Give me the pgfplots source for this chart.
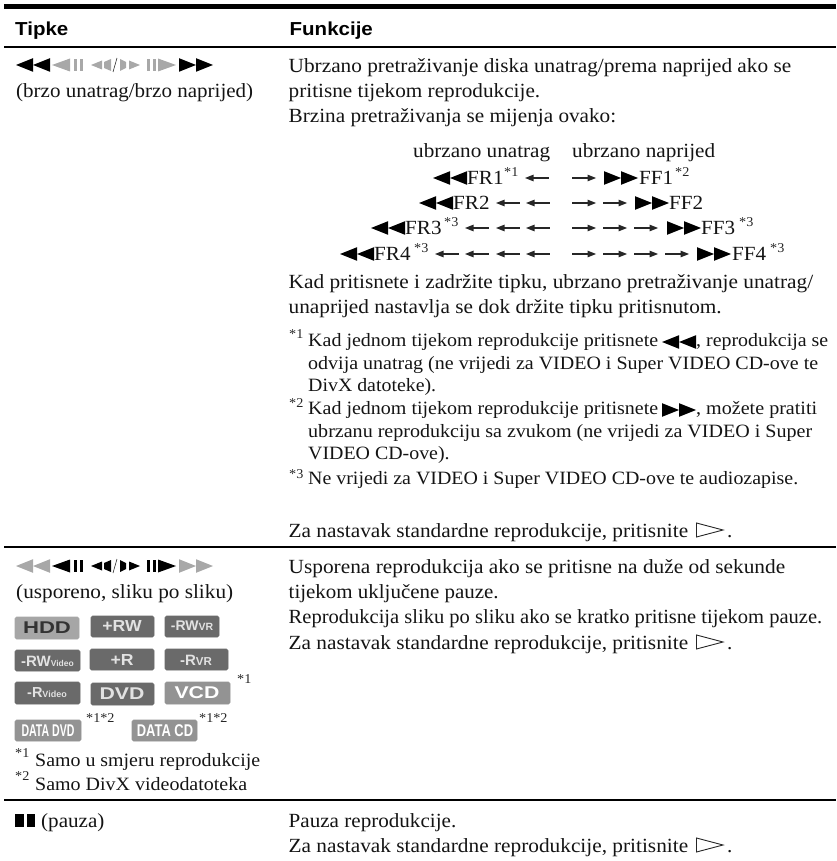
\documentclass[border=0pt]{standalone}
\usepackage{fontspec}
\usepackage{pgfplots}
\pgfplotsset{compat=1.18}
\setmainfont[FakeStretch=1.05]{Liberation Serif}
\newfontfamily\hd[FakeStretch=1.09]{Liberation Sans}
\newfontfamily\hdp{Liberation Sans}
\definecolor{ic}{HTML}{A8A8A8}
\definecolor{bdark}{HTML}{6A6A6A}
\definecolor{bmid}{HTML}{939393}
\definecolor{blight}{HTML}{A6A6A6}
\definecolor{bt}{HTML}{E2E2E2}
\newcommand{\bd}{\fontsize{20.1}{23}\selectfont}
\newcommand{\fn}{\fontsize{18.8}{23}\selectfont}
\newcommand{\T}[3]{\node[anchor=base west,inner sep=0,text=black!92] at (axis cs:#1,#2) {\bd #3};}
% x, baseline, target width, text: the line is fitted to the width it has in the reference
\newcommand{\W}[4]{\node[anchor=base west,inner sep=0,text=black!92] at (axis cs:#1,#2) {\resizebox{#3pt}{\height}{\bd #4}};}
\newcommand{\Fw}[4]{\node[anchor=base west,inner sep=0,text=black!92] at (axis cs:#1,#2) {\resizebox{#3pt}{\height}{\fn #4}};}
\newcommand{\Sp}[3]{\node[anchor=base west,inner sep=0,text=black!85] at (axis cs:#1,#2) {\fontsize{13.5}{14}\selectfont #3};}
% triangles: x left, y centre, width, half height, colour
\newcommand{\tl}[5]{\addplot[fill=#5,draw=none] coordinates {(#1,#2)(#1+#3,#2-#4)(#1+#3,#2+#4)} -- cycle;}
\newcommand{\tr}[5]{\addplot[fill=#5,draw=none] coordinates {(#1,#2-#4)(#1+#3,#2)(#1,#2+#4)} -- cycle;}
\newcommand{\dl}[3]{\tl{#1}{#2}{17}{6.8}{#3}\tl{#1+17}{#2}{17}{6.8}{#3}}
\newcommand{\dr}[3]{\tr{#1}{#2}{17}{6.8}{#3}\tr{#1+17}{#2}{17}{6.8}{#3}}
\newcommand{\rect}[5]{\addplot[fill=#5,draw=none] coordinates {(#1,#2)(#3,#2)(#3,#4)(#1,#4)} -- cycle;}
\newcommand{\la}[2]{\addplot[black!85,line width=1.1pt] coordinates {(#1+3,#2)(#1+24,#2)};\tl{#1}{#2}{8.5}{3.4}{black!85}}
\newcommand{\ra}[2]{\addplot[black!85,line width=1.1pt] coordinates {(#1,#2)(#1+21,#2)};\tr{#1+15.5}{#2}{8.5}{3.4}{black!85}}
\newcommand{\play}[1]{\addplot[draw=black!85,line width=0.9pt,fill=white] coordinates {(696.5,#1-7)(723,#1)(696.5,#1+7)} -- cycle;}
\newcommand{\btn}[5]{\addplot[fill=#5,draw=#5,line width=0.6pt,rounded corners=1.5pt] coordinates {(#1,#2)(#3,#2)(#3,#4)(#1,#4)} -- cycle;}
% x, y, size, colour, horizontal scale, text
\newcommand{\lbl}[6]{\node[inner sep=0,text=#4] at (axis cs:#1,#2) {\scalebox{#5}[1]{\hdp\bfseries\fontsize{#3}{#3}\selectfont #6}};}
% the keypad row: y centre, colours for wings, centre
\newcommand{\keys}[3]{%
 \dl{16}{#1}{#2}
 \tl{52}{#1}{18}{6.5}{#3}\rect{74}{#1-6}{77}{#1+6}{#3}\rect{80}{#1-6}{83}{#1+6}{#3}
 \tl{91}{#1}{11}{4.5}{#3}
 \addplot[fill=#3,draw=none] coordinates {(104,#1-3)(111,#1-6)(111,#1+6)(104,#1+3)} -- cycle;
 \addplot[black!85,line width=0.6pt] coordinates {(113,#1+7)(117,#1-7)};
 \addplot[fill=#3,draw=none] coordinates {(120,#1-6)(126,#1-3)(126,#1+3)(120,#1+6)} -- cycle;
 \tr{129}{#1}{11}{4.5}{#3}
 \rect{147}{#1-6}{150}{#1+6}{#3}\rect{153}{#1-6}{156}{#1+6}{#3}\tr{158}{#1}{18}{6.5}{#3}
 \dr{179}{#1}{#2}}
\begin{document}
\begin{tikzpicture}
\useasboundingbox (0,0) rectangle (836pt,861pt);
\begin{axis}[hide axis,scale only axis,width=836pt,height=861pt,xmin=0,xmax=836,ymin=0,ymax=861,y dir=reverse,clip=false]
% rules
\rect{4}{4}{836}{9.5}{black}
\rect{4}{46}{836}{48}{black}
\rect{4}{546}{836}{548}{black}
\rect{4}{799}{836}{801}{black}
% header
\node[anchor=base west,inner sep=0] at (axis cs:15,35.5) {\hd\bfseries\fontsize{18.8}{20}\selectfont Tipke};
\node[anchor=base west,inner sep=0] at (axis cs:289.5,35.5) {\hd\bfseries\fontsize{18.8}{20}\selectfont Funkcije};
% row 1 left
\keys{65}{black}{ic}
\W{16}{98}{237}{(brzo unatrag/brzo naprijed)}
% row 1 right
\W{288.5}{73}{502.5}{Ubrzano pretraživanje diska unatrag/prema naprijed ako se}
\W{288.5}{98}{251.5}{pritisne tijekom reprodukcije.}
\W{288.5}{123}{327.5}{Brzina pretraživanja se mijenja ovako:}
\W{413}{158}{137}{ubrzano unatrag}
\W{572}{158}{143}{ubrzano naprijed}
% FR1
\dl{433}{178}{black}\T{467}{184}{FR1}\Sp{504}{176}{*1}\la{525}{178}
\ra{572}{178}\dr{604}{178}{black}\T{639}{184}{FF1}\Sp{675}{176}{*2}
% FR2
\dl{419}{203}{black}\T{453}{209}{FR2}\la{496}{203}\la{526}{203}
\ra{572}{203}\ra{603}{203}\dr{635}{203}{black}\T{669}{209}{FF2}
% FR3
\dl{371}{228}{black}\T{405}{234}{FR3}\Sp{444}{226}{*3}\la{465}{228}\la{496}{228}\la{526}{228}
\ra{572}{228}\ra{603}{228}\ra{634}{228}\dr{667}{228}{black}\T{701}{234}{FF3}\Sp{739}{226}{*3}
% FR4
\dl{340}{254}{black}\T{374}{260}{FR4}\Sp{414}{252}{*3}\la{435}{254}\la{465}{254}\la{496}{254}\la{526}{254}
\ra{572}{254}\ra{603}{254}\ra{634}{254}\ra{665}{254}\dr{697}{254}{black}\T{732}{260}{FF4}\Sp{770}{252}{*3}
\W{288.5}{288}{524.5}{Kad pritisnete i zadržite tipku, ubrzano pretraživanje unatrag/}
\W{288.5}{313}{433}{unaprijed nastavlja se dok držite tipku pritisnutom.}
% footnotes
\Sp{289}{338}{*1}\Fw{308}{346}{350}{Kad jednom tijekom reprodukcije pritisnete}
\dl{662}{342}{black}\Fw{696}{346}{132}{, reprodukcija se}
\Fw{308}{369}{510}{odvija unatrag (ne vrijedi za VIDEO i Super VIDEO CD-ove te}
\Fw{308}{391}{128}{DivX datoteke).}
\Sp{289}{407}{*2}\Fw{308}{414}{350}{Kad jednom tijekom reprodukcije pritisnete}
\dr{662}{410}{black}\Fw{696}{414}{121}{, možete pratiti}
\Fw{308}{437}{504}{ubrzanu reprodukciju sa zvukom (ne vrijedi za VIDEO i Super}
\Fw{308}{459}{141.5}{VIDEO CD-ove).}
\Sp{289}{478}{*3}\Fw{308}{484}{490}{Ne vrijedi za VIDEO i Super VIDEO CD-ove te audiozapise.}
\W{288.5}{537}{399.5}{Za nastavak standardne reprodukcije, pritisnite}\play{530}\T{727}{537}{.}
% row 2 left
\keys{566}{ic}{black}
\W{16}{598}{217}{(usporeno, sliku po sliku)}
\btn{15}{617}{79}{639}{blight}\lbl{47}{628}{17}{black!80}{1.3}{HDD}
\btn{91}{616}{154}{637}{bdark}\lbl{122}{626}{16}{bt}{1.1}{+RW}
\btn{165}{616}{219}{637}{bdark}\node[inner sep=0,text=bt] at (axis cs:192,626) {\hdp\bfseries\fontsize{14}{14}\selectfont -RW\fontsize{10.5}{10}\selectfont VR};
\btn{15}{650}{80}{671}{bdark}\node[inner sep=0,text=bt] at (axis cs:47.5,661) {\hdp\bfseries\fontsize{15}{14}\selectfont -RW\fontsize{8.5}{8}\selectfont Video};
\btn{90}{649}{154}{670}{bdark}\lbl{122}{660}{16}{bt}{1.1}{+R}
\btn{165}{649}{228}{670}{bdark}\node[inner sep=0,text=bt] at (axis cs:196,660) {\hdp\bfseries\fontsize{15}{14}\selectfont -R\fontsize{11.5}{10}\selectfont VR};
\btn{15}{682}{80}{704}{bdark}\node[inner sep=0,text=bt] at (axis cs:47,693) {\hdp\bfseries\fontsize{14.5}{13}\selectfont -R\fontsize{9}{8}\selectfont Video};
\btn{91}{683}{154}{705}{bdark}\lbl{122}{694}{17}{bt}{1.25}{DVD}
\btn{165}{682}{230}{704}{bmid}\lbl{197}{693}{17}{white}{1.25}{VCD}
\Sp{237}{683}{*1}
\btn{15}{720}{81}{741}{bmid}\lbl{48}{731}{17}{white}{0.62}{DATA DVD}
\Sp{86}{722}{*1*2}
\btn{132}{720}{197}{741}{bmid}\lbl{165}{731}{17}{white}{0.76}{DATA CD}
\Sp{199}{722}{*1*2}
\Sp{15}{757}{*1}\Fw{35}{766}{225}{Samo u smjeru reprodukcije}
\Sp{15}{780}{*2}\Fw{35}{790}{212}{Samo DivX videodatoteka}
% row 2 right
\W{288.5}{573}{496.5}{Usporena reprodukcija ako se pritisne na duže od sekunde}
\W{288.5}{598}{210}{tijekom uključene pauze.}
\W{288.5}{623}{533.5}{Reprodukcija sliku po sliku ako se kratko pritisne tijekom pauze.}
\W{288.5}{649}{399.5}{Za nastavak standardne reprodukcije, pritisnite}\play{642}\T{727}{649}{.}
% row 3
\rect{15}{814}{23.5}{827}{black}\rect{26.5}{814}{35}{827}{black}
\T{41}{827}{(pauza)}
\T{288.5}{827}{Pauza reprodukcije.}
\W{288.5}{852}{399.5}{Za nastavak standardne reprodukcije, pritisnite}\play{845}\T{727}{852}{.}
\end{axis}
\end{tikzpicture}
\end{document}
